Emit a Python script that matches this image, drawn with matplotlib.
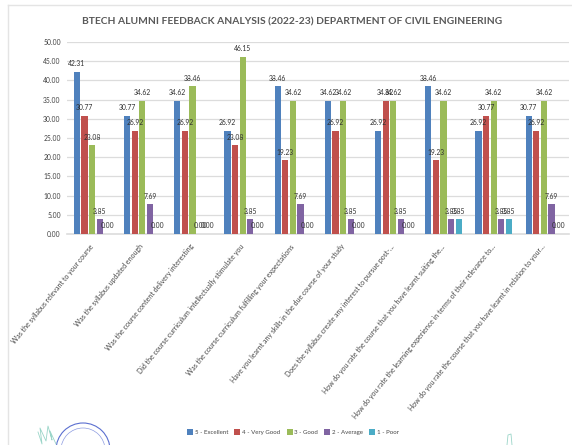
import numpy as np
import matplotlib.pyplot as plt
from matplotlib.patches import Arc

plt.rcParams['font.family'] = ['Lato', 'DejaVu Sans']

W, H = 572, 445

questions = [
    "Was the syllabus relevant to your course",
    "Was the syllabus updated enough",
    "Was the course content delivery interesting",
    "Did the course curriculum intellectually stimulate you",
    "Was the course curriculum fulfilling your expectations",
    "Have you learnt any skills in the due course of your study",
    "Does the syllabus create any interest to pursue post-...",
    "How do you rate the course that you have learnt suiting the...",
    "How do you rate the learning experience in terms of their relevance to...",
    "How do you rate the course that you have learnt in relation to your...",
]
excellent = [42.31, 30.77, 34.62, 26.92, 38.46, 34.62, 26.92, 38.46, 26.92, 30.77]
very_good = [30.77, 26.92, 26.92, 23.08, 19.23, 26.92, 34.62, 19.23, 30.77, 26.92]
good = [23.08, 34.62, 38.46, 46.15, 34.62, 34.62, 34.62, 34.62, 34.62, 34.62]
average = [3.85, 7.69, 0.00, 3.85, 7.69, 3.85, 3.85, 3.85, 3.85, 7.69]
poor = [0.00, 0.00, 0.00, 0.00, 0.00, 0.00, 0.00, 3.85, 3.85, 0.00]

series = [excellent, very_good, good, average, poor]
names = ["5 - Excellent", "4 - Very Good", "3 - Good", "2 - Average", "1 - Poor"]
colors = ["#4F81BD", "#C0504D", "#9BBB59", "#8064A2", "#4BACC6"]
yticks = [0, 5, 10, 15, 20, 25, 30, 35, 40, 45, 50]

fig = plt.figure(figsize=(W / 100, H / 100), dpi=100)
ax = fig.add_axes([67 / W, 1 - 234 / H, 502 / W, 192 / H])

x = np.arange(len(questions))
for i, (vals, name, col) in enumerate(zip(series, names, colors)):
    pos = x + (i - 2) * 0.151
    ax.bar(pos, vals, 0.125, color=col, label=name, zorder=3)
    for px, v in zip(pos, vals):
        ax.text(px, v + 1.2, f"{v:.2f}", ha='center', va='bottom',
                fontsize=4.9, color='#303030', zorder=4)

ax.set_xlim(-0.5, 9.5)
ax.set_ylim(0, 50)
ax.set_yticks(yticks)
ax.set_yticklabels([f"{v:.2f}" for v in yticks], fontsize=4.9, color='#404040')
ax.grid(axis='y', color='#DCDCDC', lw=0.9, zorder=0)
ax.set_axisbelow(True)
ax.tick_params(length=0, pad=4.5)
ax.set_xticks(x)
ax.set_xticklabels(questions, rotation=51, ha='right', va='center',
                   rotation_mode='anchor', fontsize=5.0, color='#484848')
ax.tick_params(axis='x', pad=8)
for s in ['top', 'right', 'left']:
    ax.spines[s].set_visible(False)
ax.spines['bottom'].set_color('#DCDCDC')
ax.spines['bottom'].set_linewidth(1.2)

fig.text(292 / W, 1 - 22 / H, "BTECH ALUMNI FEEDBACK ANALYSIS (2022-23) DEPARTMENT OF CIVIL ENGINEERING",
         ha='center', va='center', fontsize=7.4, fontweight='bold', color='#595959')

fig.legend(loc='center', bbox_to_anchor=(293 / W, 1 - 432 / H), ncol=5, frameon=False,
           fontsize=4.4, labelcolor='#484848', handlelength=1.0, handleheight=1.0,
           handletextpad=0.3, columnspacing=1.0)

# scan frame and stamp remains at the page edge
bg = fig.add_axes([0, 0, 1, 1], zorder=-1)
bg.set_xlim(0, W)
bg.set_ylim(H, 0)
bg.axis('off')
bg.plot([8, W], [5, 5], color='#E4E4E4', lw=1)
bg.plot([8, 8], [5, H], color='#E4E4E4', lw=1)
bg.add_patch(Arc((83, 450), 54, 54, theta1=180, theta2=360, color='#5B6FD0', lw=0.8))
bg.add_patch(Arc((83, 450), 44, 44, theta1=180, theta2=360, color='#8C9BE0', lw=0.5))
bg.plot([38, 42, 40, 46, 48, 52, 50, 56], [432, 444, 428, 441, 426, 440, 431, 444],
        color='#9AD5C8', lw=0.6)
bg.plot([507, 508, 511, 512], [445, 435, 434, 445], color='#9AD5C8', lw=0.6)

fig.savefig("out.png", dpi=100)
